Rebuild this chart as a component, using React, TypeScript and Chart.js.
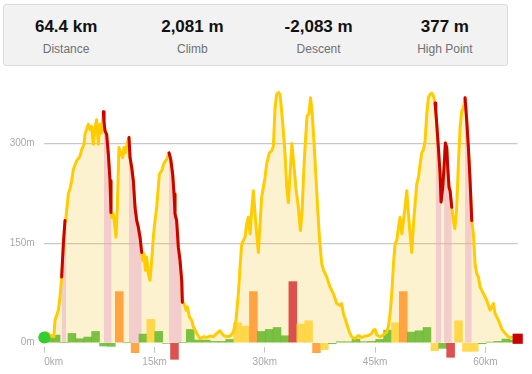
import React, { useEffect, useRef } from "react";
import { Chart, registerables } from "chart.js";

Chart.register(...registerables);

const FONT = '"Liberation Sans", Arial, sans-serif';

// Header stats
const statValues = ["64.4 km", "2,081 m", "-2,083 m", "377 m"];
const statLabels = ["Distance", "Climb", "Descent", "High Point"];

// Axis ticks
const totalKm = 64.4;
const xTickValues = [0, 15, 30, 45, 60];
const yTickValues = [0, 150, 300];

// Elevation profile (km, metres)
const profileKm = [
  0, 0.32, 0.7, 1.14, 1.3, 1.46, 1.91, 2.15, 2.36, 2.6, 2.82, 2.95, 3.27, 3.5, 3.72, 3.95,
  4.4, 4.86, 5.08, 5.4, 5.54, 5.99, 6.22, 6.44, 6.67, 6.9, 7.12, 7.35, 7.58, 7.8, 8.03, 8.12,
  8.26, 8.48, 8.71, 8.94, 9.07, 9.16, 9.39, 9.62, 9.75, 9.93, 10.16, 10.39, 10.66, 10.84, 11.02, 11.3,
  11.52, 11.66, 11.89, 12.11, 12.34, 12.57, 12.79, 13.02, 13.25, 13.38, 13.56, 13.75, 13.93, 14.15, 14.38, 14.61,
  14.83, 15.06, 15.29, 15.65, 15.97, 16.3, 16.65, 16.97, 17.2, 17.46, 17.65, 17.78, 18.0, 18.23, 18.46, 18.69,
  18.78, 19.01, 19.28, 19.46, 19.73, 20.05, 20.28, 20.73, 21.19, 21.64, 22.1, 22.55, 23.0, 23.45, 23.91, 24.36,
  24.81, 25.27, 25.72, 26.08, 26.4, 26.63, 26.85, 27.08, 27.31, 27.53, 27.76, 27.99, 28.21, 28.44, 28.67, 28.89,
  29.12, 29.35, 29.57, 30.03, 30.25, 30.62, 30.94, 31.16, 31.39, 31.61, 31.84, 32.07, 32.29, 32.52, 32.75, 32.98,
  33.2, 33.43, 33.68, 33.92, 34.24, 34.56, 34.84, 35.08, 35.3, 35.5, 35.75, 36.0, 36.22, 36.45, 36.7, 36.95,
  37.2, 37.45, 37.74, 38.0, 38.42, 38.87, 39.32, 39.78, 40.23, 40.46, 40.68, 41.14, 41.5, 41.82, 42.27, 42.73,
  43.18, 43.64, 44.09, 44.54, 44.77, 45.0, 45.22, 45.68, 46.13, 46.59, 46.81, 47.04, 47.27, 47.5, 47.72, 47.95,
  48.18, 48.4, 48.63, 48.86, 49.08, 49.31, 49.54, 49.76, 49.99, 50.22, 50.44, 50.67, 50.9, 51.12, 51.35, 51.58,
  51.8, 52.03, 52.25, 52.48, 52.71, 52.93, 53.16, 53.25, 53.39, 53.61, 53.84, 53.97, 54.2, 54.38, 54.56, 54.75,
  54.88, 55.06, 55.2, 55.43, 55.65, 55.85, 56.1, 56.33, 56.56, 56.79, 57.02, 57.24, 57.47, 57.69, 57.92, 58.15,
  58.37, 58.6, 58.83, 59.05, 59.28, 59.73, 60.19, 60.64, 61.1, 61.32, 61.78, 62.23, 62.69, 63.14, 63.6, 64.0,
  64.4,
];
const profileElev = [
  14, 15, 12, 9, 9, 34, 49, 70, 99, 150, 184, 189, 224, 232, 244, 261,
  274, 281, 291, 299, 314, 329, 321, 326, 299, 324, 336, 299, 329, 316, 348, 333,
  319, 314, 284, 244, 196, 189, 194, 174, 159, 204, 294, 286, 279, 294, 286, 301,
  309, 279, 264, 244, 204, 184, 174, 159, 136, 124, 134, 109, 129, 104, 94, 124,
  159, 184, 204, 254, 259, 271, 276, 286, 276, 254, 224, 194, 184, 144, 124, 94,
  61, 59, 49, 54, 39, 34, 24, 14, 6, 9, 8, 10, 9, 14, 18, 11,
  9, 10, 16, 34, 74, 114, 149, 154, 159, 179, 189, 164, 199, 229, 194, 164,
  136, 179, 219, 249, 269, 286, 289, 296, 354, 374, 377, 374, 349, 319, 284, 234,
  211, 254, 300, 272, 232, 204, 169, 200, 260, 300, 342, 345, 369, 345, 300, 250,
  200, 155, 119, 109, 99, 84, 74, 59, 56, 59, 44, 29, 16, 9, 6, 11,
  8, 10, 11, 14, 19, 20, 12, 9, 12, 16, 24, 44, 74, 119, 149, 154,
  174, 189, 164, 184, 204, 229, 194, 164, 136, 179, 209, 239, 249, 269, 286, 291,
  304, 344, 369, 374, 376, 372, 361, 350, 329, 294, 254, 212, 234, 264, 301, 294,
  264, 234, 229, 204, 184, 172, 204, 269, 324, 349, 354, 369, 334, 294, 244, 184,
  164, 119, 104, 99, 84, 74, 64, 49, 59, 44, 34, 21, 14, 9, 8, 8,
  6,
];

// Steep sections drawn in red (km ranges)
const redRanges: [number, number][] = [
  [2.3, 2.85], [8.0, 9.1], [11.5, 13.3], [16.9, 18.8], [53.1, 55.45], [57.2, 58.2],
];
// Shaded bands under the profile (km ranges)
const bandRanges: [number, number][] = [
  [2.36, 2.95], [8.1, 9.16], [11.5, 13.25], [16.95, 18.7], [53.24, 53.97], [54.38, 55.5], [57.24, 58.15],
];

// Per-segment bars (metres) and their colour class
const barValues = [
  8, 11.5, 0, 14, 6, 8.5, 17, -5, -5.5, 77,
  0, -15, 13, 35, 17, -1, -25, 0, 20, 4,
  4, 2, 2, 5, 30, 25, 77, 17, 20, 23,
  10.5, 92, 28, 33, -15, -10.5, -1.5, 1.5, 1.5, 5.5,
  1.5, 2, 5, 19, 30, 77, 16, 18, 23, -12,
  -8.5, -22, 33, -13, -13, -1.5, 1, 2, 5.5, 4,
];
const barClasses = [
  "g", "g", "g", "g", "g", "g", "g", "g", "g", "o",
  "g", "o", "g", "y", "g", "g", "r", "g", "g", "g",
  "g", "g", "g", "g", "y", "y", "o", "g", "g", "g",
  "g", "r", "y", "y", "o", "y", "g", "g", "g", "g",
  "g", "g", "g", "g", "y", "o", "g", "g", "g", "y",
  "g", "r", "y", "y", "y", "g", "g", "g", "g", "g",
];
const barColorMap: Record<string, string> = {
  g: "rgba(100,185,40,0.85)",
  y: "rgba(255,210,50,0.85)",
  o: "rgba(255,150,40,0.85)",
  r: "rgba(215,50,50,0.85)",
};

const startPoint = { x: 0, y: 8 };
const endPoint = { x: 64.4, y: 6 };

function pointsInRanges(ranges: [number, number][]) {
  const out: { x: number; y: number | null }[] = [];
  ranges.forEach(([a, b], ri) => {
    if (ri > 0) out.push({ x: (a + ranges[ri - 1][1]) / 2, y: null });
    profileKm.forEach((k, i) => {
      if (k >= a && k <= b) out.push({ x: k, y: profileElev[i] });
    });
  });
  return out;
}

function ElevationChart() {
  const ref = useRef<HTMLCanvasElement>(null);
  useEffect(() => {
    if (!ref.current) return;
    const profile = profileKm.map((k, i) => ({ x: k, y: profileElev[i] }));
    const barW = totalKm / barValues.length;
    const bars = barValues.map((v, i) => ({ x: (i + 0.5) * barW, y: v }));
    const chart = new Chart(ref.current, {
      type: "line",
      data: {
        datasets: [
          {
            label: "markers",
            data: [startPoint, endPoint],
            showLine: false,
            pointStyle: ["circle", "rect"] as any,
            pointRadius: [6, 7.2] as any,
            pointBackgroundColor: ["#33cc33", "#cc0000"] as any,
            pointBorderWidth: 0,
            clip: false as any,
            order: 0,
          },
          {
            label: "steep",
            data: pointsInRanges(redRanges) as any,
            borderColor: "#cc0000",
            borderWidth: 3,
            pointRadius: 0,
            fill: false,
            spanGaps: false,
            borderJoinStyle: "round",
            borderCapStyle: "round",
            order: 1,
          },
          {
            label: "profile",
            data: profile,
            borderColor: "#ffcc00",
            borderWidth: 3,
            pointRadius: 0,
            fill: false,
            borderJoinStyle: "round",
            borderCapStyle: "round",
            order: 2,
          },
          {
            type: "bar",
            label: "bars",
            data: bars,
            backgroundColor: barClasses.map((c) => barColorMap[c]),
            borderWidth: 0,
            barPercentage: 1,
            categoryPercentage: 1,
            clip: false as any,
            order: 3,
          } as any,
          {
            label: "bands",
            data: pointsInRanges(bandRanges) as any,
            borderWidth: 0,
            borderColor: "transparent",
            backgroundColor: "rgba(233,166,201,0.5)",
            pointRadius: 0,
            fill: "origin",
            spanGaps: false,
            order: 4,
          },
          {
            label: "area",
            data: profile,
            borderWidth: 0,
            borderColor: "transparent",
            backgroundColor: "rgba(245,190,15,0.2)",
            pointRadius: 0,
            fill: "origin",
            order: 5,
          },
        ],
      },
      options: {
        animation: false,
        responsive: false,
        maintainAspectRatio: false,
        events: [],
        layout: { padding: { left: 0, right: 14.3, top: 5.2, bottom: 0 } },
        plugins: { legend: { display: false }, tooltip: { enabled: false } },
        scales: {
          x: {
            type: "linear",
            min: 0,
            max: totalKm,
            offset: false,
            border: { display: false },
            grid: {
              offset: false,
              drawOnChartArea: false,
              drawTicks: true,
              tickLength: 6,
              tickColor: (ctx: any) => (ctx.tick && ctx.tick.value > 62 ? "transparent" : "#c4c4c4"),
            },
            afterBuildTicks: (s: any) => {
              s.ticks = [...xTickValues, totalKm].map((v) => ({ value: v }));
            },
            afterFit: (s: any) => {
              s.height = 27.3;
              s.paddingLeft = 0;
              s.paddingRight = 0;
            },
            ticks: {
              autoSkip: false,
              maxRotation: 0,
              align: "inner",
              padding: 4,
              color: "#a8a8a8",
              font: { family: FONT, size: 10 },
              callback: (v: any) => (xTickValues.includes(Number(v)) ? `${v}km` : ""),
            },
          },
          y: {
            type: "linear",
            min: -6,
            max: 400,
            border: { display: false },
            grid: {
              drawTicks: false,
              lineWidth: 1.2,
              color: (ctx: any) => (ctx.tick && ctx.tick.value > 0 ? "#c9c9c9" : "transparent"),
            },
            afterBuildTicks: (s: any) => {
              s.ticks = yTickValues.map((v) => ({ value: v }));
            },
            afterFit: (s: any) => {
              s.width = 44.3;
              s.paddingTop = 0;
              s.paddingBottom = 0;
            },
            ticks: {
              padding: 9.6,
              color: "#a8a8a8",
              font: { family: FONT, size: 10 },
              callback: (v: any) => `${v}m`,
            },
          },
        },
      },
    } as any);
    return () => chart.destroy();
  }, []);
  return (
    <canvas
      ref={ref}
      width={532}
      height={304}
      style={{ position: "absolute", left: 0, top: 70, width: 532, height: 304 }}
    />
  );
}

export default function App() {
  const colW = 505 / statValues.length;
  return (
    <div
      style={{
        position: "fixed",
        left: 0,
        top: 0,
        width: 532,
        height: 374,
        background: "#fff",
        fontFamily: FONT,
        overflow: "hidden",
      }}
    >
      <div
        style={{
          position: "absolute",
          left: 3,
          top: 4,
          width: 503,
          height: 59.5,
          background: "#f2f2f2",
          border: "1px solid #dcdcdc",
          borderRadius: 3,
        }}
      />
      {statValues.map((v, i) => (
        <div
          key={v}
          style={{
            position: "absolute",
            left: 3 + colW * i,
            width: colW,
            top: 0,
            textAlign: "center",
          }}
        >
          <div
            style={{
              position: "absolute",
              left: 0,
              right: 0,
              top: 17,
              lineHeight: "20px",
              fontSize: 17,
              fontWeight: "bold",
              color: "#111",
            }}
          >
            {v}
          </div>
          <div
            style={{
              position: "absolute",
              left: 0,
              right: 0,
              top: 42,
              lineHeight: "14px",
              fontSize: 12,
              color: "#707070",
            }}
          >
            {statLabels[i]}
          </div>
        </div>
      ))}
      <ElevationChart />
    </div>
  );
}
